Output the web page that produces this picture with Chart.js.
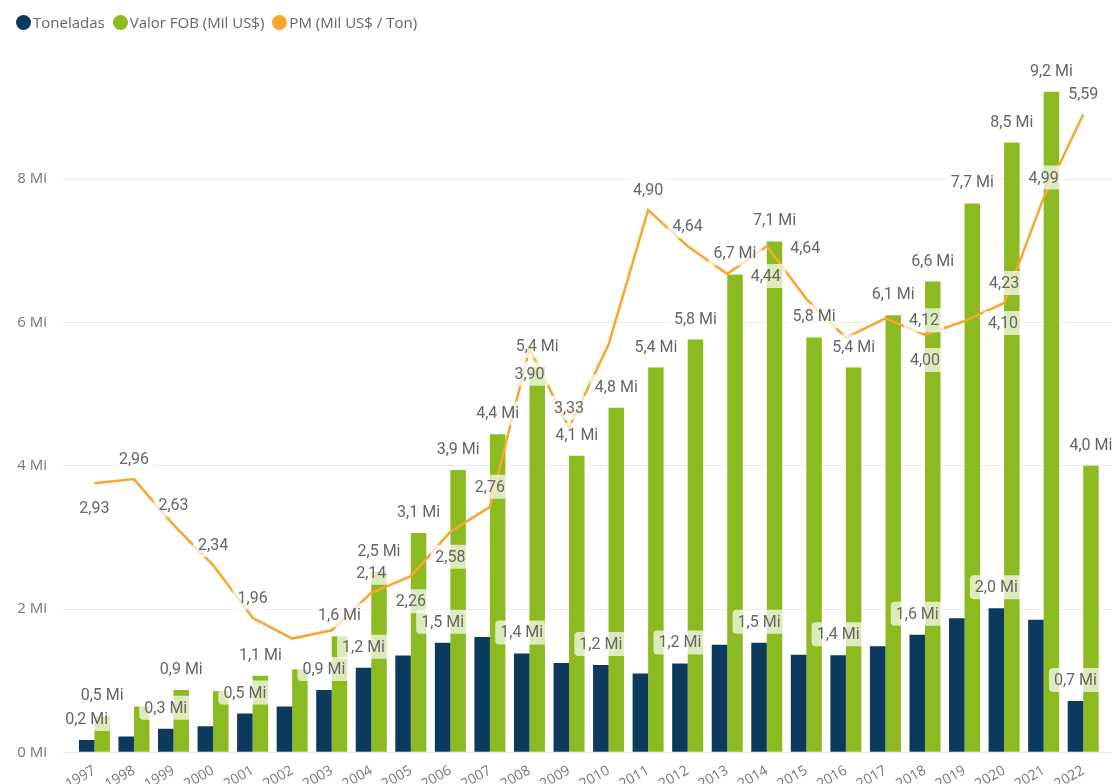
<!DOCTYPE html>
<html>
<head>
<meta charset="utf-8">
<script src="https://cdn.jsdelivr.net/npm/chart.js@4/dist/chart.umd.min.js"></script>
<style>
html, body { margin: 0; padding: 0; background: #fff; }
#wrap { position: relative; width: 1112px; height: 784px; }
#legend { position: absolute; left: 16px; top: 12px; display: flex; font: 15px "Open Sans"; color: #666; }
#legend .item { display: flex; align-items: center; margin-right: 8px; }
#legend .dot { width: 15px; height: 15px; border-radius: 50%; margin-right: 2px; }
</style>
</head>
<body>
<div id="wrap">
  <canvas id="chart" width="1112" height="784"></canvas>
  <div id="legend"></div>
</div>
<script>
// DATA (values in millions)
const years = [1997, 1998, 1999, 2000, 2001, 2002, 2003, 2004, 2005, 2006, 2007, 2008, 2009,
               2010, 2011, 2012, 2013, 2014, 2015, 2016, 2017, 2018, 2019, 2020, 2021, 2022];
const toneladas = [0.17, 0.22, 0.33, 0.365, 0.54, 0.64, 0.87, 1.18, 1.35, 1.53, 1.61, 1.38, 1.245,
                   1.22, 1.10, 1.24, 1.50, 1.53, 1.36, 1.354, 1.48, 1.64, 1.87, 2.01, 1.85, 0.715];
const valorFob = [0.50, 0.64, 0.87, 0.855, 1.07, 1.16, 1.62, 2.52, 3.06, 3.94, 4.44, 5.38, 4.14,
                  4.81, 5.37, 5.76, 6.67, 7.13, 5.79, 5.37, 6.10, 6.57, 7.66, 8.51, 9.22, 4.00];
const pm = [2.93, 2.96, 2.63, 2.34, 1.96, 1.81, 1.87, 2.14, 2.26, 2.58, 2.76, 3.90, 3.33,
            3.93, 4.90, 4.64, 4.44, 4.64, 4.26, 3.98, 4.12, 4.00, 4.10, 4.23, 4.99, 5.59];
const yTicks = [0, 2, 4, 6, 8];
const seriesNames = ["Toneladas", "Valor FOB (Mil US$)", "PM (Mil US$ / Ton)"];
const seriesColors = ["#0c3a5d", "#8bbb21", "#f9a630"];

// which data labels power bi kept visible
const tonLabelYears = [1997, 1999, 2001, 2003, 2004, 2006, 2008, 2010, 2012, 2014, 2016, 2018, 2020, 2022];
const fobLabelYears = years.filter(y => ![1998, 2000, 2002].includes(y));
const pmAbove = [1998, 1999, 2000, 2001, 2004, 2007, 2009, 2011, 2012, 2020, 2021, 2022];
const pmBelow = [1997, 2005, 2006, 2008, 2018];
const pmRight = [2013, 2014, 2017, 2019];

// LEGEND
const legend = document.getElementById("legend");
seriesNames.forEach((name, i) => {
    const item = document.createElement("div");
    item.className = "item";
    const dot = document.createElement("span");
    dot.className = "dot";
    dot.style.background = seriesColors[i];
    const txt = document.createElement("span");
    txt.textContent = name;
    item.appendChild(dot);
    item.appendChild(txt);
    legend.appendChild(item);
});

const fmt = (v, d) => v.toFixed(d).replace(".", ",");

// DATA LABELS with the translucent white box
const pbiLabels = {
    id: "pbiLabels",
    afterDatasetsDraw(chart) {
        const ctx = chart.ctx;
        ctx.save();
        ctx.font = "16px Roboto";
        ctx.textAlign = "center";
        ctx.textBaseline = "middle";
        const jobs = [];
        chart.data.datasets.forEach((ds, di) => {
            const meta = chart.getDatasetMeta(di);
            meta.data.forEach((el, i) => {
                const yr = years[i];
                const v = ds.data[i];
                if (di === 0 && tonLabelYears.includes(yr)) jobs.push([el.x, el.y - 21, fmt(v, 1) + " Mi"]);
                if (di === 1 && fobLabelYears.includes(yr)) jobs.push([el.x, el.y - 21, fmt(v, 1) + " Mi"]);
                if (di === 2) {
                    if (pmAbove.includes(yr)) jobs.push([el.x, el.y - 20, fmt(v, 2)]);
                    if (pmBelow.includes(yr)) jobs.push([el.x, el.y + 25, fmt(v, 2)]);
                    if (pmRight.includes(yr)) jobs.push([el.x + 38.5, el.y + 2, fmt(v, 2)]);
                }
            });
        });
        jobs.forEach(([x, y, t]) => {
            const w = ctx.measureText(t).width + 10;
            ctx.fillStyle = "rgba(255,255,255,0.7)";
            ctx.beginPath();
            ctx.roundRect(x - w / 2, y - 12, w, 24, 4);
            ctx.fill();
        });
        jobs.forEach(([x, y, t]) => {
            ctx.fillStyle = "#666";
            ctx.fillText(t, x, y + 1);
        });
        ctx.restore();
    }
};

Chart.defaults.font.family = "'Open Sans'";

new Chart(document.getElementById("chart"), {
    type: "bar",
    data: {
        labels: years,
        datasets: [
            {
                label: seriesNames[0],
                data: toneladas,
                backgroundColor: seriesColors[0],
                order: 1,
                categoryPercentage: 0.784,
                barPercentage: 1
            },
            {
                label: seriesNames[1],
                data: valorFob,
                backgroundColor: seriesColors[1],
                order: 2,
                categoryPercentage: 0.784,
                barPercentage: 1
            },
            {
                type: "line",
                label: seriesNames[2],
                data: pm,
                yAxisID: "y1",
                borderColor: seriesColors[2],
                borderWidth: 2.5,
                pointRadius: 0,
                tension: 0,
                order: 0
            }
        ]
    },
    options: {
        responsive: false,
        devicePixelRatio: 1,
        animation: false,
        layout: { padding: { top: 64.5, left: 0, right: 0, bottom: 0 } },
        plugins: {
            legend: { display: false },
            tooltip: { enabled: false }
        },
        scales: {
            x: {
                type: "linear",
                offset: false,
                min: 1996.206,
                max: 2022.728,
                grid: { display: false },
                border: { display: false },
                afterBuildTicks: s => { s.ticks = years.map(v => ({ value: v })); },
                afterFit: s => { s.height = 31.7; },
                ticks: {
                    autoSkip: false,
                    minRotation: 30,
                    maxRotation: 30,
                    padding: 2,
                    color: "#777",
                    font: { size: 14 },
                    callback: v => String(v)
                }
            },
            y: {
                min: 0,
                max: 9.6,
                afterBuildTicks: s => { s.ticks = yTicks.map(v => ({ value: v })); },
                afterFit: s => { s.width = 63; },
                grid: { color: "#ebebeb", drawTicks: false },
                border: { display: false },
                ticks: {
                    padding: 16,
                    color: "#777",
                    font: { size: 15 },
                    callback: v => v + " Mi"
                }
            },
            y1: {
                display: false,
                position: "right",
                min: 0.99,
                max: 5.95
            }
        }
    },
    plugins: [pbiLabels]
});
</script>
</body>
</html>
